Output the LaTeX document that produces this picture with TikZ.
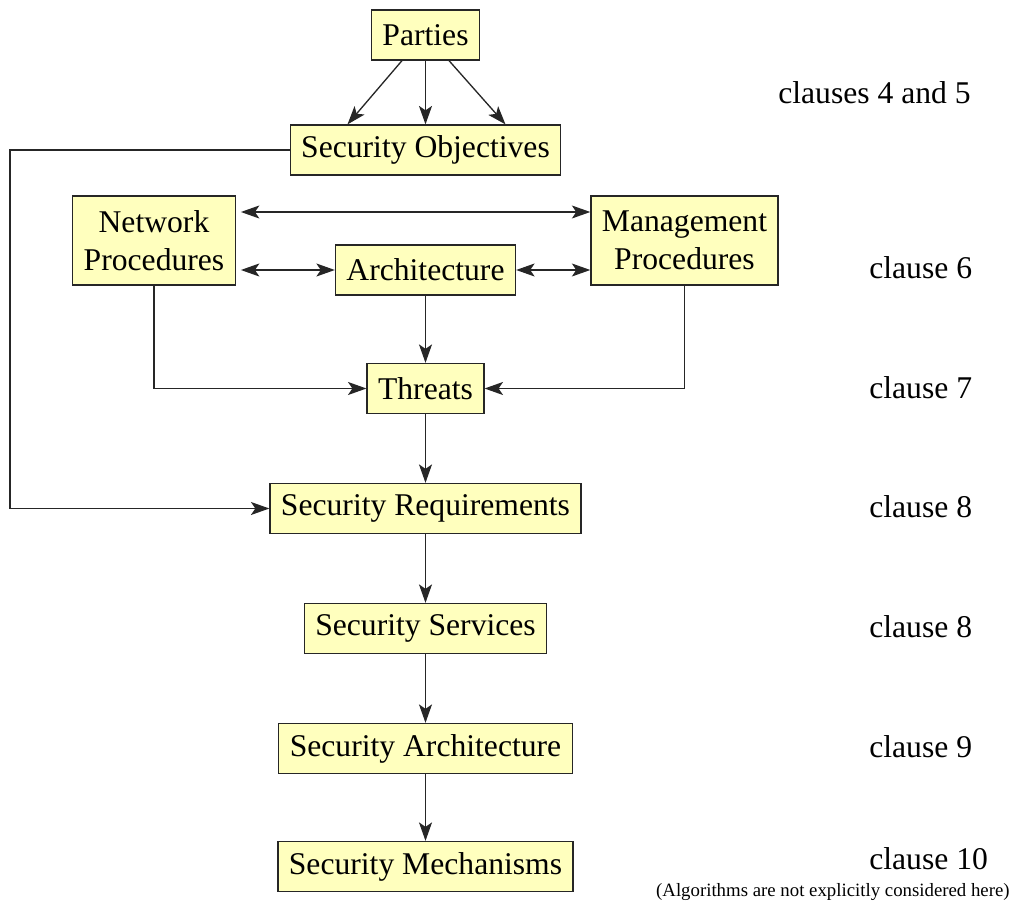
\documentclass[tikz,border=0pt]{standalone}
\usepackage{fontspec}
\setmainfont{Liberation Serif}
\usepackage{tikz}
\usetikzlibrary{shapes,arrows,arrows.meta}
\definecolor{boxYellow}{RGB}{255,255,190}
\tikzstyle{block} = [rectangle, draw=black!85, fill=boxYellow, line width=0.7pt,
minimum height=1cm, inner xsep=0.22cm, text centered, font=\fontsize{18}{21.5}\selectfont]
\tikzstyle{twoLine} = [block, align=center, minimum height=1.78cm]
\tikzstyle{clause} = [anchor=west, inner sep=0pt, font=\fontsize{18}{20}\selectfont]
\tikzstyle{note} = [anchor=east, inner sep=0pt, font=\fontsize{10.7}{12}\selectfont]
\tikzstyle{flowArrow} = [line width=0.75pt, draw=black!85, -{Stealth[length=10.5pt,width=7.4pt,inset=2.5pt]}]
\tikzstyle{bothArrow} = [flowArrow, {Stealth[length=10.5pt,width=7.4pt,inset=2.5pt]}-{Stealth[length=10.5pt,width=7.4pt,inset=2.5pt]}]

\begin{document}
\begin{tikzpicture}[node distance=2.4cm]
		\useasboundingbox (0,0) rectangle (20.22,-18.04);
		%blocks
		\node[block](parties) at (8.51,-0.7){Parties};
		\node[block, below of=parties, yshift=0.1cm](objectives){Security Objectives};
		\node[block, below of=objectives](arch){Architecture};
		\node[twoLine, left of=arch, xshift=-3.03cm, yshift=0.59cm](net){Network\\Procedures};
		\node[twoLine, right of=arch, xshift=2.78cm, yshift=0.59cm](mgmt){Management\\Procedures};
		\node[block, below of=arch, yshift=0.03cm](threats){Threats};
		\node[block, below of=threats](requirements){Security Requirements};
		\node[block, below of=requirements](services){Security Services};
		\node[block, below of=services](secArch){Security Architecture};
		\node[block, below of=secArch, yshift=0.04cm](mechanisms){Security Mechanisms};
		\coordinate (leftRail) at (0.2,0);

		%clause labels
		\node[clause](c45) at (15.56,-1.86){clauses 4 and 5};
		\node[clause](c6) at (17.38,-5.36){clause 6};
		\node[clause](c7) at (17.38,-7.76){clause 7};
		\node[clause](c8a) at (17.38,-10.14){clause 8};
		\node[clause](c8b) at (17.38,-12.54){clause 8};
		\node[clause](c9) at (17.38,-14.94){clause 9};
		\node[clause](c10) at (17.38,-17.18){clause 10};
		\node[note](algNote) at (20.2,-17.84){(Algorithms are not explicitly considered here)};

		%arrows
		\draw[flowArrow]([xshift=-0.47cm]parties.south)--([xshift=-1.56cm]objectives.north);
		\draw[flowArrow](parties)--(objectives);
		\draw[flowArrow]([xshift=0.47cm]parties.south)--([xshift=1.6cm]objectives.north);
		\draw[flowArrow](objectives.west)--(objectives.west-|leftRail)|-(requirements.west);
		\draw[bothArrow]([yshift=0.57cm,xshift=0.1cm]net.east)--([yshift=0.57cm]mgmt.west);
		\draw[bothArrow]([xshift=0.1cm]net.east|-arch.west)--(arch.west);
		\draw[bothArrow](arch.east)--(mgmt.west|-arch.east);
		\draw[flowArrow](arch)--(threats);
		\draw[flowArrow](net.south)|-(threats.west);
		\draw[flowArrow](mgmt.south)|-(threats.east);
		\draw[flowArrow](threats)--(requirements);
		\draw[flowArrow](requirements)--(services);
		\draw[flowArrow](services)--(secArch);
		\draw[flowArrow](secArch)--(mechanisms);
	\end{tikzpicture}
\end{document}
